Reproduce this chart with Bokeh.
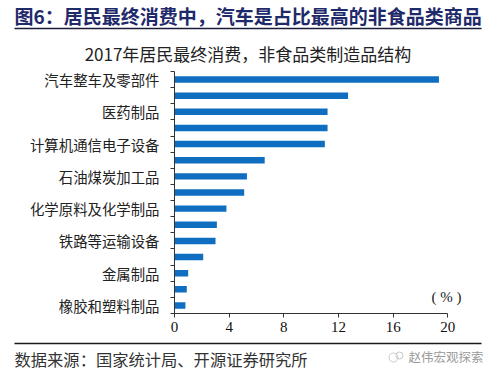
from bokeh.plotting import figure
from bokeh.models import Range1d, FixedTicker, ColumnDataSource, Label
from bokeh.layouts import column
from bokeh.embed import file_html
from bokeh.resources import INLINE
from bokeh.core.properties import value

# ---- data ----
fig_title = "图6：居民最终消费中，汽车是占比最高的非食品类商品"
chart_title = "2017年居民最终消费，非食品类制造品结构"
source_note = "数据来源：国家统计局、开源证券研究所"
watermark = "赵伟宏观探索"
unit_label = "( % )"
categories = ["汽车整车及零部件", "", "医药制品", "", "计算机通信电子设备", "",
              "石油煤炭加工品", "", "化学原料及化学制品", "", "铁路等运输设备", "",
              "金属制品", "", "橡胶和塑料制品"]
values = [19.35, 12.7, 11.2, 11.2, 11.0, 6.6, 5.3, 5.1, 3.8, 3.1, 3.0, 2.1, 1.0, 0.9, 0.8]
x_ticks = [0, 4, 8, 12, 16, 20]

CJK = "Noto Sans CJK SC"
SERIF = "Liberation Serif"
NAVY = "#1F2A6B"
BAR = "#0F6EC0"
W = 500

n = len(categories)
ypos = [n - i for i in range(n)]


def no_align(fig):
    try:
        fig.frame_align = False
    except Exception:
        pass


def blank(height):
    b = figure(width=W, height=height, x_range=Range1d(0, W), y_range=Range1d(height, 0),
               x_axis_type=None, y_axis_type=None, toolbar_location=None,
               output_backend="svg", min_border=0)
    b.outline_line_color = None
    b.grid.visible = False
    no_align(b)
    return b


# ---- header ----
HH = 66
h = blank(HH)
h.text(x=[14], y=[15], text=[fig_title], text_font=value(CJK), text_font_size="19px",
       text_font_style="bold", text_color=NAVY, text_baseline="middle", text_align="left")
h.segment(x0=[14], y0=[28], x1=[481], y1=[28], line_color="#1a1a3a", line_width=1.5)
h.text(x=[247.5], y=[53], text=[chart_title], text_font=value(CJK), text_font_size="17px",
       text_color="#222222", text_baseline="middle", text_align="center")

# ---- main ----
MH = 274
p = figure(width=W, height=MH, x_range=Range1d(0, 21), y_range=Range1d(0.5, n + 0.5),
           toolbar_location=None, output_backend="svg",
           min_border_left=174, min_border_right=39, min_border_top=5, min_border_bottom=27)
p.outline_line_color = None
p.grid.visible = False
no_align(p)
src = ColumnDataSource(dict(y=ypos, v=values))
p.hbar(y="y", left=0, right="v", height=0.4, source=src, fill_color=BAR, line_color=None)

p.xaxis.bounds = (x_ticks[0], x_ticks[-1])
p.xaxis.ticker = FixedTicker(ticks=x_ticks)
p.xaxis.major_tick_out = 4
p.xaxis.major_tick_in = 0
p.xaxis.minor_tick_out = 0
p.xaxis.major_label_standoff = 4
p.xaxis.major_label_text_font = SERIF
p.xaxis.major_label_text_font_size = "15px"
p.xaxis.major_label_text_color = "#111111"
p.xaxis.axis_line_color = "#333333"
p.xaxis.major_tick_line_color = "#333333"

labelled = [ypos[i] for i in range(n) if categories[i]]
p.yaxis.ticker = FixedTicker(ticks=labelled, minor_ticks=[k + 0.5 for k in range(n + 1)])
p.yaxis.major_label_overrides = {ypos[i]: categories[i] for i in range(n) if categories[i]}
p.yaxis.major_tick_out = 0
p.yaxis.major_tick_in = 0
p.yaxis.minor_tick_out = 4
p.yaxis.minor_tick_in = 0
p.yaxis.major_label_standoff = 11
p.yaxis.major_label_text_font = CJK
p.yaxis.major_label_text_font_size = "14.4px"
p.yaxis.major_label_text_color = "#222222"
p.yaxis.axis_line_color = "#333333"
p.yaxis.minor_tick_line_color = "#333333"

p.add_layout(Label(x=19.9, y=1.55, text=unit_label, text_font=SERIF, text_font_size="15px",
                   text_color="#222222", text_align="center", text_baseline="middle"))

# ---- footer ----
FH = 374 - HH - MH
f = blank(FH)
f.segment(x0=[14], y0=[3], x1=[481], y1=[3], line_color="#1a1a1a", line_width=1.5)
f.text(x=[14], y=[18], text=[source_note], text_font=value(CJK), text_font_size="16.3px",
       text_color="#333333", text_baseline="middle", text_align="left")
f.circle(x=[393, 399], y=[17, 15], radius=[4.5, 3.5], fill_color=None,
         line_color="#c8c8c8", line_width=1)
f.text(x=[483], y=[15.5], text=[watermark], text_font=value(CJK), text_font_size="12.5px",
       text_color="#9a9a9a", text_baseline="middle", text_align="right")

layout = column(h, p, f, spacing=0)
open("out.html", "w").write(file_html(layout, INLINE))
